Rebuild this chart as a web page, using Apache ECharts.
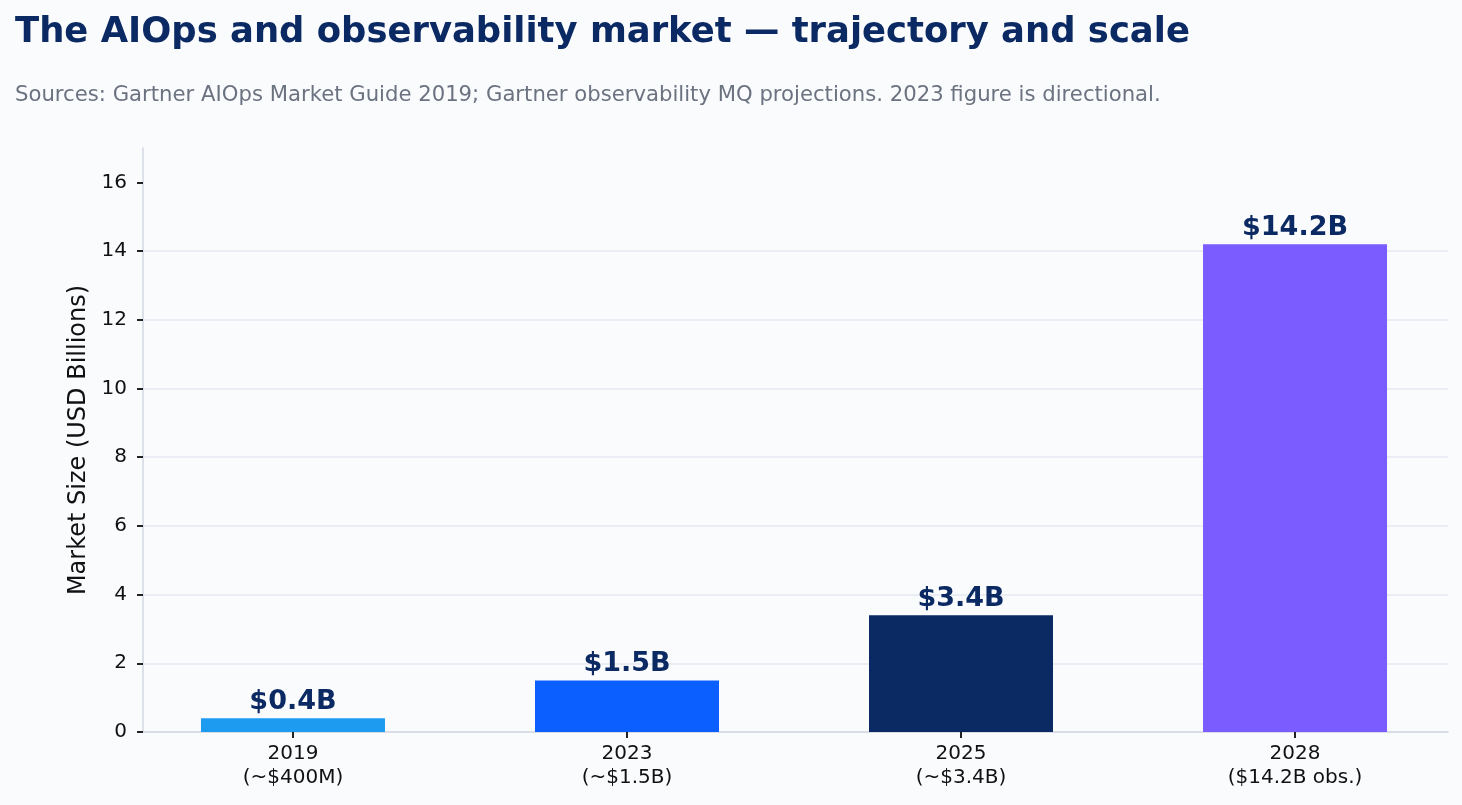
<!DOCTYPE html>
<html>
<head>
<meta charset="utf-8">
<title>AIOps market</title>
<script src="https://cdn.jsdelivr.net/npm/echarts@6/dist/echarts.min.js"></script>
<style>
  html, body { margin: 0; padding: 0; background: #fafbfd; }
  #chart { width: 1462px; height: 805px; }
</style>
</head>
<body>
<div id="chart"></div>
<script>
// data
const years = ['2019', '2023', '2025', '2028'];
const notes = ['(~$400M)', '(~$1.5B)', '(~$3.4B)', '($14.2B obs.)'];
const marketSize = [0.4, 1.5, 3.4, 14.2];
const barLabels = ['$0.4B', '$1.5B', '$3.4B', '$14.2B'];
const barColors = ['#1d9bf0', '#0b5fff', '#0b2963', '#7b5cff'];
const yTicks = [0, 2, 4, 6, 8, 10, 12, 14, 16];

const font = 'DejaVu Sans';
const positions = years.map((y, i) => i);

const myChart = echarts.init(document.getElementById('chart'));
const option = {
  backgroundColor: '#fafbfd',
  textStyle: { fontFamily: font },
  title: [
    {
      text: 'The AIOps and observability market — trajectory and scale',
      left: 10, top: 10,
      textStyle: { fontFamily: font, fontSize: 35.4, fontWeight: 'bold', color: '#0b2963' }
    },
    {
      text: 'Sources: Gartner AIOps Market Guide 2019; Gartner observability MQ projections. 2023 figure is directional.',
      left: 10, top: 80,
      textStyle: { fontFamily: font, fontSize: 21.2, fontWeight: 'normal', color: '#6b7280' }
    }
  ],
  grid: { left: 143, right: 14, top: 148, bottom: 73 },
  xAxis: {
    type: 'value',
    min: -0.449,
    max: 3.458,
    splitLine: { show: false },
    axisLine: { show: true, onZero: false, lineStyle: { color: '#d3d8e2', width: 1.5 } },
    axisTick: { show: true, customValues: positions, length: 6, lineStyle: { color: '#222', width: 2 } },
    axisLabel: {
      customValues: positions,
      margin: 10,
      fontSize: 20,
      lineHeight: 24,
      color: '#111',
      fontFamily: font,
      formatter: (v) => years[Math.round(v)] + '\n' + notes[Math.round(v)]
    }
  },
  yAxis: {
    type: 'value',
    min: 0,
    max: 17,
    name: 'Market Size (USD Billions)',
    nameLocation: 'middle',
    nameGap: 52,
    nameTextStyle: { fontFamily: font, fontSize: 24, color: '#111' },
    axisLine: { show: true, onZero: false, lineStyle: { color: '#d3d8e2', width: 1.5 } },
    axisTick: { show: true, customValues: yTicks, length: 6, lineStyle: { color: '#222', width: 2 } },
    axisLabel: { customValues: yTicks, fontSize: 20, color: '#111', margin: 16, fontFamily: font },
    splitLine: { show: true, showMaxLine: false, lineStyle: { color: '#e4e8ef', width: 1.5 } }
  },
  series: [
    {
      type: 'bar',
      barWidth: 184,
      data: marketSize.map((v, i) => ({
        value: [positions[i], v],
        itemStyle: { color: barColors[i] }
      })),
      label: {
        show: true,
        position: 'top',
        distance: 3,
        fontFamily: font,
        fontSize: 27,
        fontWeight: 'bold',
        color: '#0b2963',
        formatter: (p) => barLabels[p.dataIndex]
      }
    }
  ]
};
myChart.setOption(option);
</script>
</body>
</html>
